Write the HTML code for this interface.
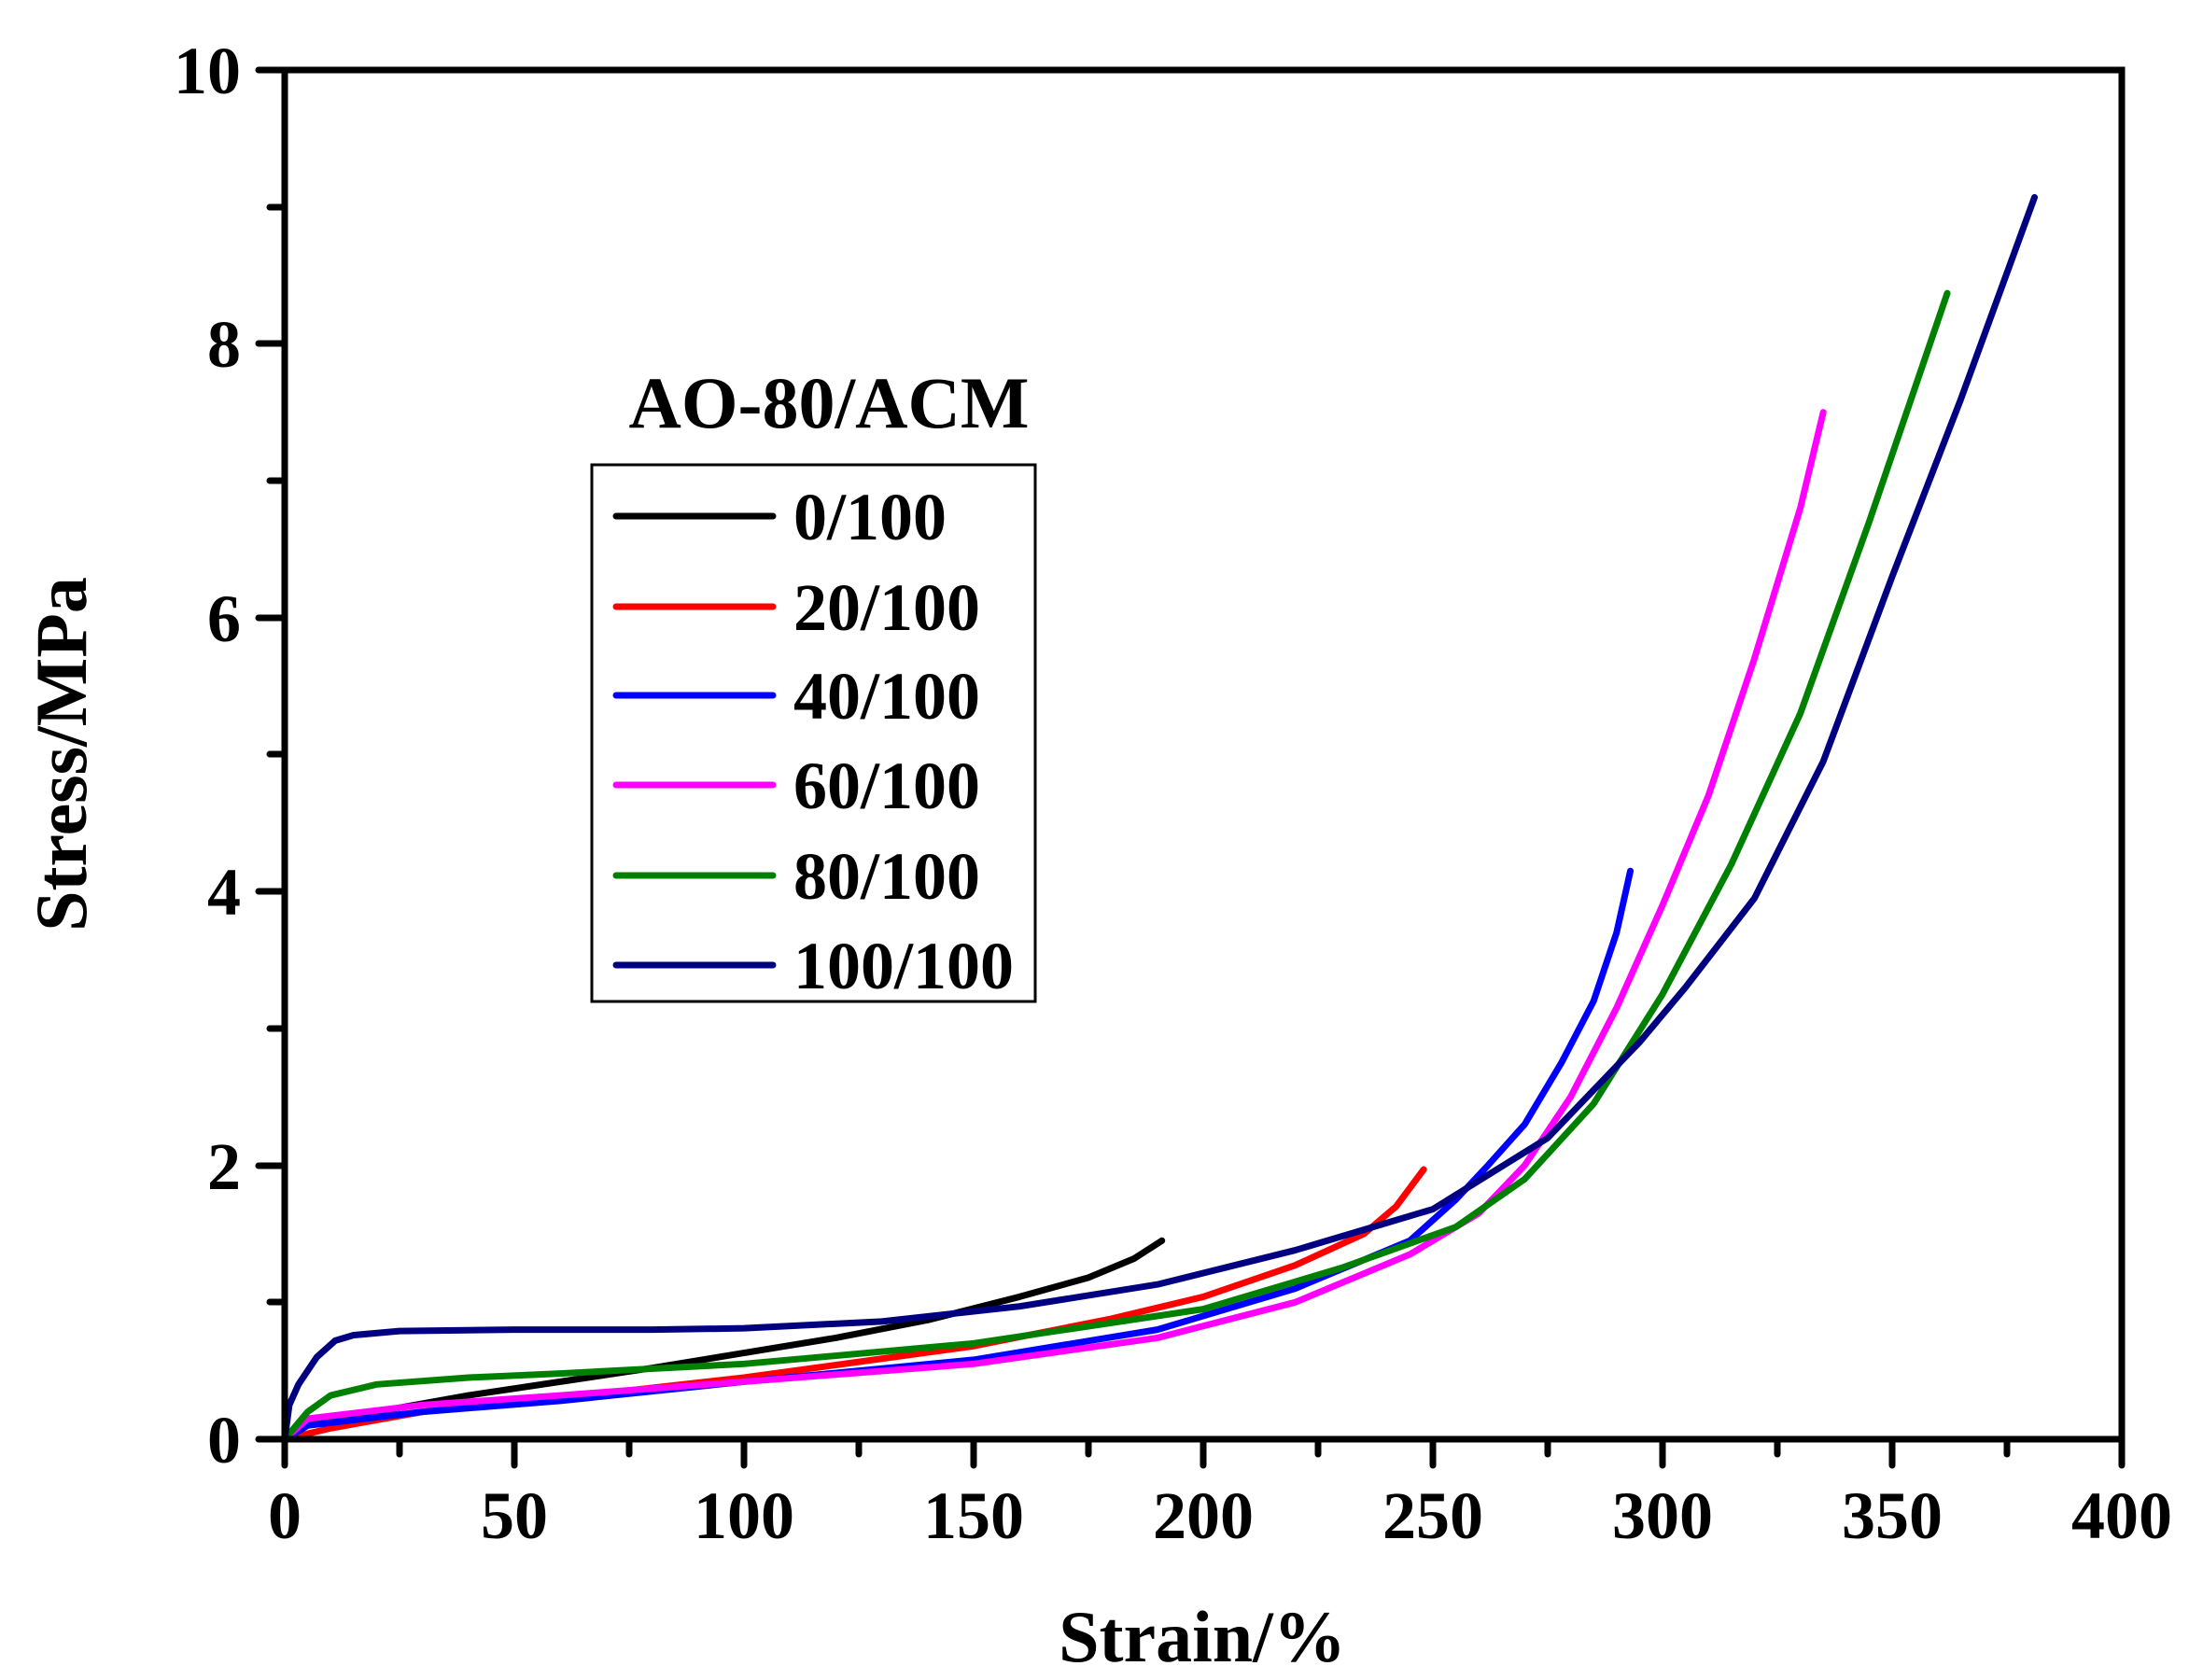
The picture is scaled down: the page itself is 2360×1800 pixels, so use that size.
<!DOCTYPE html>
<html><head><meta charset="utf-8"><style>html,body{margin:0;padding:0;background:#fff}svg{display:block}</style></head>
<body>
<svg width="2360" height="1800" xmlns="http://www.w3.org/2000/svg" font-family="'Liberation Serif', serif" font-weight="bold">
<rect width="2360" height="1800" fill="#fff"/>
<g transform="translate(305,1542) scale(4.92,-146.7)" fill="none" stroke-width="7" stroke-linejoin="round" stroke-linecap="round">
<polyline vector-effect="non-scaling-stroke" stroke="#000" points="0,0 5,0.12 20,0.2 40,0.32 60,0.42 80,0.52 100,0.63 120,0.74 140,0.87 160,1.04 175,1.18 185,1.32 191,1.45"/>
<polyline vector-effect="non-scaling-stroke" stroke="#ff0000" points="0,0 10,0.08 30,0.2 60,0.3 100,0.45 150,0.68 180,0.88 200,1.04 220,1.27 235,1.5 242,1.7 248,1.97"/>
<polyline vector-effect="non-scaling-stroke" stroke="#0000ff" points="0,0 5,0.1 30,0.2 60,0.28 100,0.42 150,0.58 190,0.8 220,1.1 245,1.45 255,1.75 262,2.0 270,2.3 278,2.75 285,3.2 290,3.7 293,4.15"/>
<polyline vector-effect="non-scaling-stroke" stroke="#ff00ff" points="0,0 5,0.15 30,0.25 60,0.32 100,0.42 150,0.55 190,0.74 220,1.0 245,1.35 260,1.65 270,2.0 280,2.5 290,3.15 300,3.9 310,4.7 320,5.7 330,6.8 335,7.5"/>
<polyline vector-effect="non-scaling-stroke" stroke="#008000" points="0,0 5,0.2 10,0.32 20,0.4 40,0.45 60,0.48 100,0.55 150,0.7 200,0.95 230,1.25 255,1.55 270,1.9 285,2.45 300,3.25 315,4.2 330,5.3 345,6.7 362,8.37"/>
<polyline vector-effect="non-scaling-stroke" stroke="#000080" points="0,0 1,0.25 3,0.4 7,0.6 11,0.72 15,0.76 25,0.79 50,0.8 80,0.8 100,0.81 130,0.86 160,0.97 190,1.13 220,1.38 250,1.68 275,2.2 295,2.9 305,3.3 320,3.95 335,4.95 350,6.3 365,7.6 381,9.07"/>
</g>
<g stroke="#000" stroke-width="7" stroke-linecap="round" fill="none">
<rect x="305" y="75" width="1968" height="1467" stroke-linecap="butt"/>
<path d="M305,1542v28 M428,1542v16 M551,1542v28 M674,1542v16 M797,1542v28 M920,1542v16 M1043,1542v28 M1166,1542v16 M1289,1542v28 M1412,1542v16 M1535,1542v28 M1658,1542v16 M1781,1542v28 M1904,1542v16 M2027,1542v28 M2150,1542v16 M2273,1542v28"/>
<path d="M305,1542h-28 M305,1395h-16 M305,1249h-28 M305,1102h-16 M305,955h-28 M305,808h-16 M305,662h-28 M305,515h-16 M305,368h-28 M305,222h-16 M305,75h-28"/>
</g>
<g font-size="72" text-anchor="middle">
<text x="305" y="1648">0</text><text x="551" y="1648">50</text><text x="797" y="1648">100</text><text x="1043" y="1648">150</text><text x="1289" y="1648">200</text><text x="1535" y="1648">250</text><text x="1781" y="1648">300</text><text x="2027" y="1648">350</text><text x="2273" y="1648">400</text>
</g>
<g font-size="72" text-anchor="end">
<text x="258" y="1567">0</text><text x="258" y="1274">2</text><text x="258" y="980">4</text><text x="258" y="687">6</text><text x="258" y="393">8</text><text x="258" y="100">10</text>
</g>
<text x="1288" y="1780" font-size="78" text-anchor="middle">Strain/%</text>
<text transform="translate(92,808) rotate(-90)" font-size="78" text-anchor="middle">Stress/MPa</text>
<text x="888" y="458" font-size="78" text-anchor="middle">AO-80/ACM</text>
<rect x="634" y="498" width="475" height="575" fill="none" stroke="#000" stroke-width="3"/>
<g stroke-width="7" stroke-linecap="round">
<line x1="660" y1="553" x2="828" y2="553" stroke="#000"/>
<line x1="660" y1="650" x2="828" y2="650" stroke="#ff0000"/>
<line x1="660" y1="745" x2="828" y2="745" stroke="#0000ff"/>
<line x1="660" y1="841" x2="828" y2="841" stroke="#ff00ff"/>
<line x1="660" y1="938" x2="828" y2="938" stroke="#008000"/>
<line x1="660" y1="1034" x2="828" y2="1034" stroke="#000080"/>
</g>
<g font-size="72">
<text x="850" y="578">0/100</text><text x="850" y="675">20/100</text><text x="850" y="770">40/100</text><text x="850" y="866">60/100</text><text x="850" y="963">80/100</text><text x="850" y="1059">100/100</text>
</g>
</svg>
</body></html>
